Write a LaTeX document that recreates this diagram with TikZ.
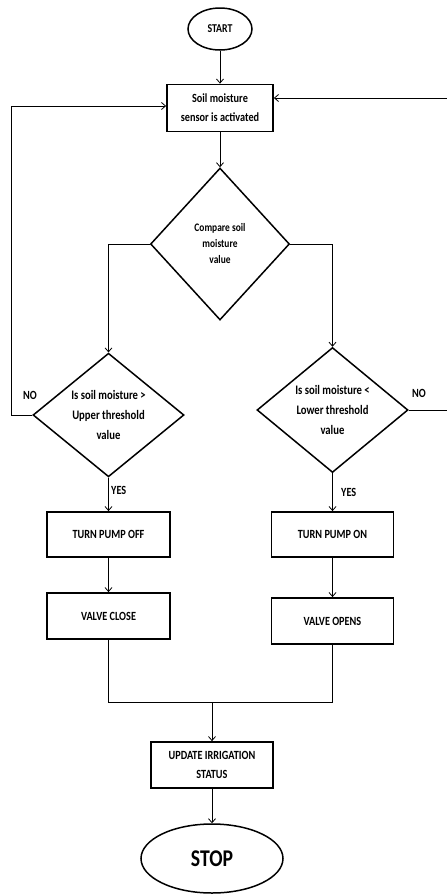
\documentclass[tikz,border=0pt]{standalone}
\usepackage{fontspec}
\setmainfont{Carlito}[FakeStretch=0.82]
\usetikzlibrary{shapes.geometric,arrows.meta}
\begin{document}
\begin{tikzpicture}[x=1pt,y=-1pt,
  box/.style={draw,line width=1.8pt,rectangle,inner sep=1pt,align=center,font=\bfseries\fontsize{12.5}{19}\selectfont},
  dia/.style={draw,line width=1.5pt,diamond,inner sep=0pt,align=center,font=\bfseries\fontsize{13}{20}\selectfont},
  term/.style={draw,line width=1.5pt,ellipse,inner sep=0pt,font=\bfseries},
  conn/.style={line width=0.8pt,-{Straight Barb[length=4pt,width=7pt]}},
  plain/.style={line width=0.8pt},
  lab/.style={font=\bfseries\fontsize{12.5}{14}\selectfont,inner sep=0pt}
]
\useasboundingbox (0,0) rectangle (447,895);
\node[term,minimum width=64pt,minimum height=42pt,font=\bfseries\fontsize{12}{13}\selectfont] (start) at (220,29) {START};
\node[box,minimum width=106pt,minimum height=47pt] (sensor) at (220,108) {Soil moisture\\sensor is activated};
\node[dia,minimum width=139pt,minimum height=152pt,font=\bfseries\fontsize{11.5}{16}\selectfont] (cmp) at (220,244) {Compare soil\\moisture\\value};
\node[dia,minimum width=151pt,minimum height=122pt] (upper) at (108.5,415) {Is soil moisture >\\Upper threshold\\value};
\node[dia,minimum width=151pt,minimum height=125pt] (lower) at (332.5,410) {Is soil moisture <\\Lower threshold\\value};
\node[box,minimum width=123pt,minimum height=45pt] (off) at (108.5,534.5) {TURN PUMP OFF};
\node[box,minimum width=122pt,minimum height=45pt] (on) at (332.5,534.5) {TURN PUMP ON};
\node[box,minimum width=123pt,minimum height=46pt] (close) at (108.5,616) {VALVE CLOSE};
\node[box,minimum width=122pt,minimum height=46pt] (open) at (332.5,621) {VALVE OPENS};
\node[box,minimum width=122pt,minimum height=46pt] (update) at (212,765) {UPDATE IRRIGATION\\STATUS};
\node[term,minimum width=142pt,minimum height=69pt,font=\bfseries\fontsize{24}{26}\selectfont] (stop) at (212,858.5) {STOP};

\node[lab] (noL) at (30,395) {NO};
\node[lab] (noR) at (419,393) {NO};
\node[lab,anchor=west] (yesL) at (111,490) {YES};
\node[lab,anchor=west] (yesR) at (341,492) {YES};

\coordinate (lc) at (11,106);
\coordinate (rt) at (447,98);
\coordinate (rb) at (447,410);
\coordinate (m) at (212,702);

\draw[conn] (start) -- (sensor);
\draw[conn] (sensor) -- (cmp);
\draw[conn] (cmp.west) -| (upper.north);
\draw[conn] (cmp.east) -| (lower.north);
\draw[conn] (upper.south) -- (off.north);
\draw[conn] (lower.south) -- (on.north);
\draw[conn] (off) -- (close);
\draw[conn] (on) -- (open);
\draw[conn] (upper.west) -| (lc) -- (lc -| sensor.west);
\draw[plain] (lower.east) -- (rb);
\draw[conn] (rt) -- (rt -| sensor.east);
\draw[plain] (close.south) -- (close.south |- m) -- (open.south |- m) -- (open.south);
\draw[conn] (m) -- (update);
\draw[conn] (update) -- (stop);
\end{tikzpicture}
\end{document}
